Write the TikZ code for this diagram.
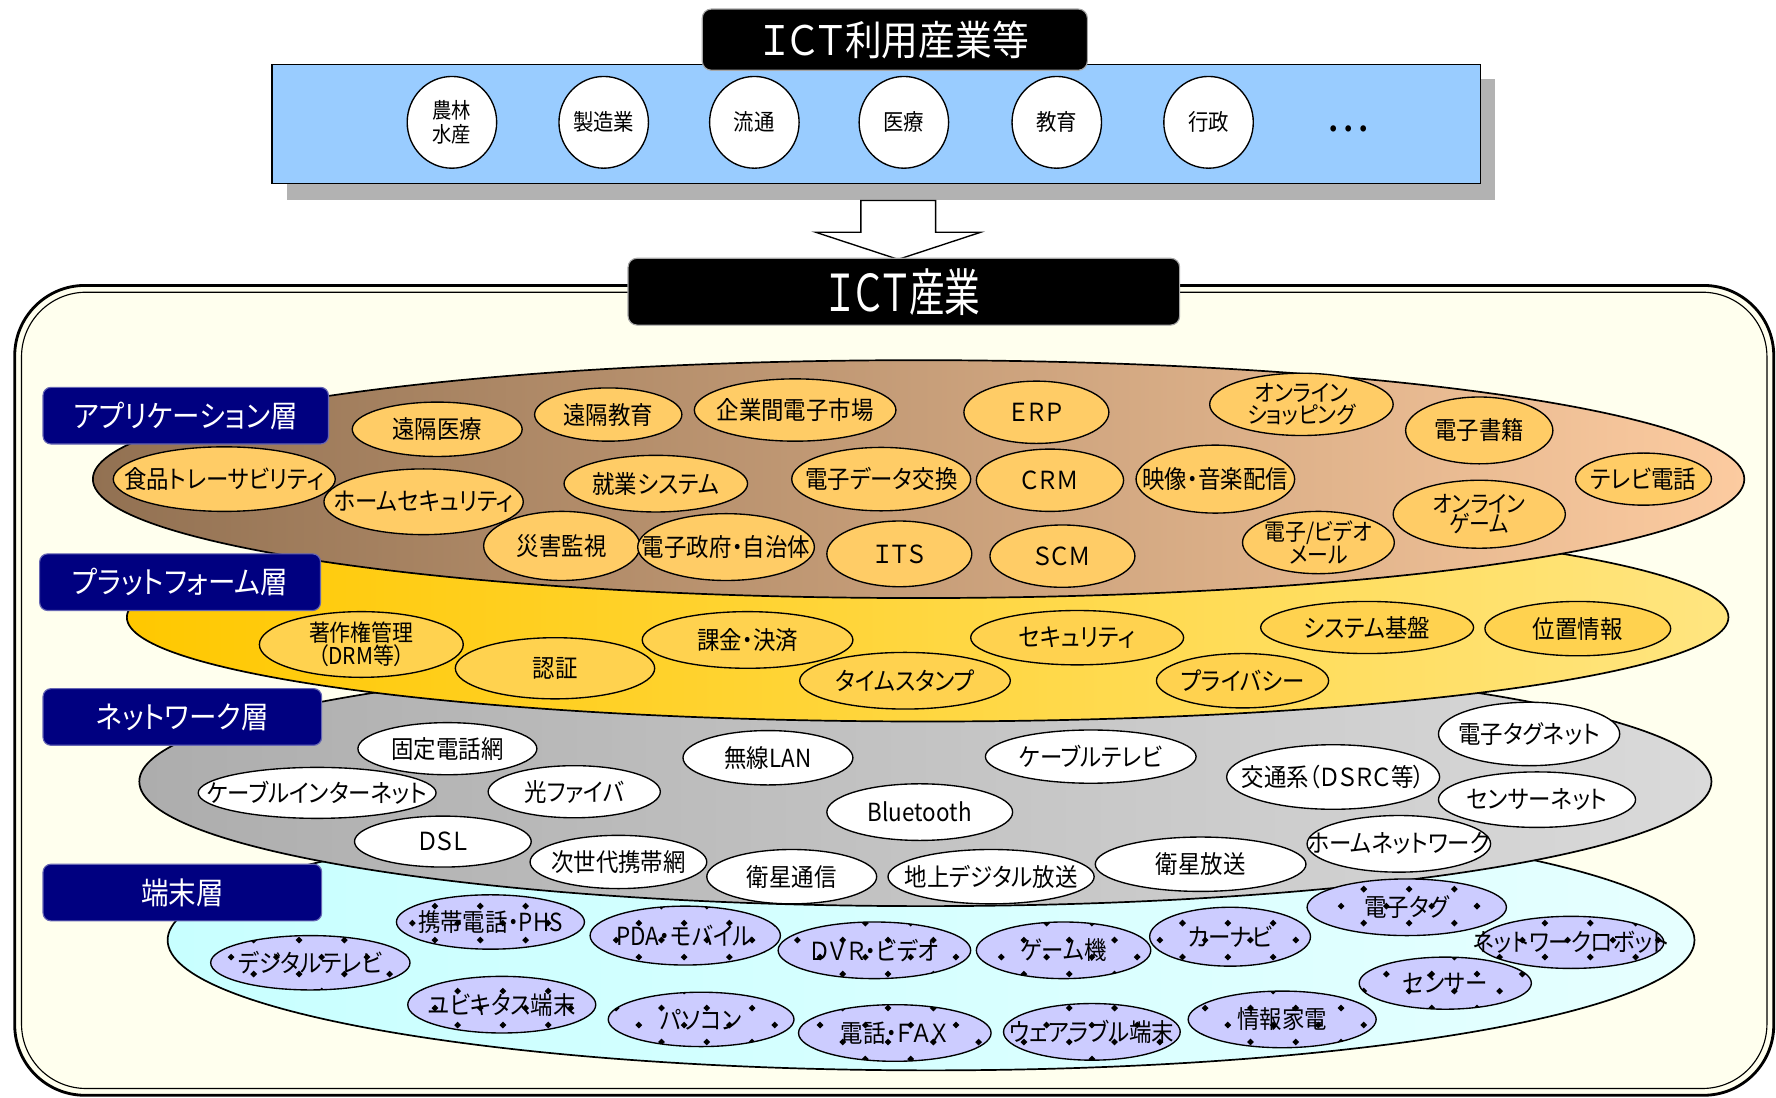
\documentclass[tikz,border=0pt]{standalone}
\usepackage{fontspec}
\setmainfont{Noto Sans CJK JP}[FakeStretch=0.9,RawFeature={+palt}]
\newfontfamily\headfont{Noto Sans CJK JP}[FakeStretch=0.7,RawFeature={+palt}]
\usepackage{tikz}
\usetikzlibrary{shapes.geometric,patterns}

\definecolor{navy}{HTML}{000080}
\definecolor{bandblue}{HTML}{99CCFF}
\definecolor{framefill}{HTML}{FFFFEE}
\definecolor{appleft}{HTML}{927152}
\definecolor{appright}{HTML}{FCCBA0}
\definecolor{appfill}{HTML}{FFCC66}
\definecolor{platleft}{HTML}{FFC800}
\definecolor{platright}{HTML}{FFE580}
\definecolor{platfill}{HTML}{FFD24F}
\definecolor{netleft}{HTML}{ADADAD}
\definecolor{netright}{HTML}{DADADA}
\definecolor{termleft}{HTML}{C8FFFF}
\definecolor{termright}{HTML}{E6FFFF}
\definecolor{termfill}{HTML}{CCCCFF}

% sparse black diamonds on the terminal items
\pgfdeclarepatternformonly{termdots}{\pgfqpoint{-1pt}{-1pt}}{\pgfqpoint{41pt}{31pt}}{\pgfqpoint{40pt}{30pt}}{%
  \pgfpathmoveto{\pgfqpoint{4pt}{1pt}}\pgfpathlineto{\pgfqpoint{7pt}{4pt}}%
  \pgfpathlineto{\pgfqpoint{4pt}{7pt}}\pgfpathlineto{\pgfqpoint{1pt}{4pt}}\pgfpathclose
  \pgfpathmoveto{\pgfqpoint{24pt}{16pt}}\pgfpathlineto{\pgfqpoint{27pt}{19pt}}%
  \pgfpathlineto{\pgfqpoint{24pt}{22pt}}\pgfpathlineto{\pgfqpoint{21pt}{19pt}}\pgfpathclose
  \pgfusepath{fill}}

\tikzstyle{titlebox} = [fill=black, draw=gray!70, line width=1pt, rounded corners=8pt, text=white, inner sep=0pt]
\tikzstyle{sector} = [ellipse, draw, line width=1.2pt, fill=white, inner sep=0pt, align=center, minimum width=79pt, minimum height=81pt, font=\fontsize{20}{22}\selectfont]
\tikzstyle{layerlbl} = [fill=navy, draw=navy!60!white, line width=1pt, rounded corners=7pt, text=white, minimum height=50pt, font=\fontsize{27}{27}\selectfont]
\tikzstyle{item} = [ellipse, draw, line width=1.2pt, inner sep=-30pt, align=center, font=\fontsize{22}{18}\selectfont]
\tikzstyle{appitem} = [item, fill=appfill]
\tikzstyle{platitem} = [item, fill=platfill]
\tikzstyle{netitem} = [item, fill=white]
\tikzstyle{termitem} = [item, fill=termfill, postaction={pattern=termdots}]
\tikzstyle{twolines} = [font=\fontsize{20.5}{18}\selectfont]
\tikzset{sz/.style 2 args={minimum width=#1pt, minimum height=#2pt}}

\begin{document}
\begin{tikzpicture}[x=1pt, y=-1pt]
  \useasboundingbox (0,0) rectangle (1568,969);

  % USERS OF ICT
  % shadow of the band
  \fill[gray!60] (253,70) rectangle (1320,177);
  % band
  \draw[fill=bandblue, line width=1.2pt] (240,57) rectangle (1307,162);
  % title
  \node (usetitle) [titlebox, sz={340}{54}, font=\fontsize{36}{36}\selectfont] at (790,35) {ＩＣＴ利用産業等};
  % sectors
  \node (agri) [sector, font=\fontsize{19}{22}\selectfont] at (399,108) {農林\\水産};
  \node (maker) [sector] at (533,108) {製造業};
  \node (retail) [sector] at (666,108) {流通};
  \node (medical) [sector] at (798,108) {医療};
  \node (school) [sector] at (933,108) {教育};
  \node (admin) [sector] at (1067,108) {行政};
  \node (others) [font=\fontsize{20}{20}\selectfont\bfseries] at (1191,116) {・ ・ ・};

  % block arrow
  \draw[fill=white, line width=1.2pt] (760,177) -- (826,177) -- (826,205) -- (866,205)
    -- (793,229) -- (720,205) -- (760,205) -- cycle;

  % ICT INDUSTRY
  % frame
  \draw[fill=framefill, line width=2.5pt, rounded corners=62pt] (13,252) rectangle (1566,967);
  \draw[line width=1pt, rounded corners=57pt] (19,258) rectangle (1560,961);
  \node (icttitle) [titlebox, sz={487}{59}, font=\headfont\fontsize{45}{45}\selectfont] at (798,257.5) {ＩＣＴ産業};

  % LAYERS
  % terminal
  \draw[line width=1.5pt, left color=termleft, right color=termright] (822,830) ellipse (674pt and 115pt);
  % network
  \draw[line width=1.5pt, left color=netleft, right color=netright] (817,690) ellipse (694pt and 110pt);
  % platform
  \draw[line width=1.5pt, left color=platleft, right color=platright] (819,545) ellipse (707pt and 92pt);
  % application
  \draw[line width=1.5pt, left color=appleft, right color=appright] (811,423) ellipse (729pt and 105pt);

  % layer labels
  \node (applbl) [layerlbl, minimum width=252pt] at (164,367) {アプリケーション層};
  \node (platlbl) [layerlbl, minimum width=248pt] at (159,514) {プラットフォーム層};
  \node (netlbl) [layerlbl, minimum width=246pt] at (161,633) {ネットワーク層};
  \node (termlbl) [layerlbl, minimum width=246pt] at (161,788) {端末層};

  % application items
  \node (remotecare) [appitem, sz={150}{48}] at (386,379) {遠隔医療};
  \node (remoteedu) [appitem, sz={130}{47}] at (537,366) {遠隔教育};
  \node (btob) [appitem, sz={178}{55}] at (702,362) {企業間電子市場};
  \node (erp) [appitem, sz={128}{55}] at (915,364) {ＥＲＰ};
  \node (shopping) [appitem, twolines, sz={162}{55}] at (1149,357) {オンライン\\ショッピング};
  \node (ebook) [appitem, sz={130}{59}] at (1306,380) {電子書籍};
  \node (foodtrace) [appitem, sz={196}{57}] at (198,423) {食品トレーサビリティ};
  \node (homesec) [appitem, sz={176}{58}] at (374,443) {ホームセキュリティ};
  \node (worksys) [appitem, sz={162}{50}] at (579,427) {就業システム};
  \node (edi) [appitem, sz={158}{56}] at (778,423) {電子データ交換};
  \node (crm) [appitem, sz={130}{55}] at (927,424) {ＣＲＭ};
  \node (media) [appitem, sz={140}{60}] at (1073,423) {映像・音楽配信};
  \node (videotel) [appitem, sz={120}{46}] at (1451,423) {テレビ電話};
  \node (onlinegame) [appitem, twolines, sz={152}{60}] at (1306,454) {オンライン\\ゲーム};
  \node (disaster) [appitem, sz={138}{61}] at (496,482) {災害監視};
  \node (egov) [appitem, sz={156}{59}] at (641,483) {電子政府・自治体};
  \node (its) [appitem, sz={128}{58}] at (794,489) {ＩＴＳ};
  \node (scm) [appitem, sz={128}{55}] at (938,491) {ＳＣＭ};
  \node (email) [appitem, twolines, sz={134}{55}] at (1164,479) {電子/ビデオ\\メール};

  % platform items
  \node (drm) [platitem, twolines, sz={180}{58}] at (319,569) {著作権管理\\（DRM等）};
  \node (auth) [platitem, sz={176}{54}] at (490,590) {認証};
  \node (billing) [platitem, sz={186}{50}] at (660,565) {課金・決済};
  \node (timestamp) [platitem, sz={186}{50}] at (799,601) {タイムスタンプ};
  \node (security) [platitem, sz={188}{48}] at (951,563) {セキュリティ};
  \node (privacy) [platitem, sz={152}{48}] at (1097,601) {プライバシー};
  \node (sysbase) [platitem, sz={188}{46}] at (1207,554) {システム基盤};
  \node (location) [platitem, sz={164}{48}] at (1393,555) {位置情報};

  % network items
  \node (fixedtel) [netitem, sz={158}{46}] at (395,661) {固定電話網};
  \node (catvnet) [netitem, sz={210}{45}] at (280,700) {ケーブルインターネット};
  \node (fiber) [netitem, sz={152}{46}] at (507,699) {光ファイバ};
  \node (wlan) [netitem, sz={150}{48}] at (678,669) {無線LAN};
  \node (dsl) [netitem, sz={156}{45}] at (391,743) {ＤＳＬ};
  \node (nextmobile) [netitem, sz={156}{47}] at (546,761) {次世代携帯網};
  \node (satcom) [netitem, sz={150}{48}] at (699,774) {衛星通信};
  \node (bluetooth) [netitem, sz={164}{50}] at (812,717) {Bluetooth};
  \node (dtv) [netitem, sz={182}{48}] at (875,774) {地上デジタル放送};
  \node (catv) [netitem, sz={186}{47}] at (963,668) {ケーブルテレビ};
  \node (satbc) [netitem, sz={186}{48}] at (1060,763) {衛星放送};
  \node (dsrc) [netitem, sz={188}{57}] at (1177,686) {交通系（ＤＳＲＣ等）};
  \node (tagnet) [netitem, sz={160}{56}] at (1350,648) {電子タグネット};
  \node (sensornet) [netitem, sz={174}{49}] at (1357,706) {センサーネット};
  \node (homenet) [netitem, sz={162}{50}] at (1235,745) {ホームネットワーク};

  % terminal items
  \node (mobile) [termitem, sz={166}{48}] at (433,814) {携帯電話・PHS};
  \node (digitv) [termitem, sz={176}{48}] at (274,850) {デジタルテレビ};
  \node (pda) [termitem, sz={168}{52}] at (605,826) {PDA・モバイル};
  \node (dvr) [termitem, sz={170}{50}] at (772,839) {ＤＶＲ・ビデオ};
  \node (gamebox) [termitem, sz={154}{50}] at (939,839) {ゲーム機};
  \node (carnav) [termitem, sz={142}{52}] at (1086,827) {カーナビ};
  \node (etag) [termitem, sz={176}{50}] at (1242,801) {電子タグ};
  \node (robot) [termitem, sz={164}{46}] at (1387,832) {ネットワークロボット};
  \node (sensor) [termitem, sz={152}{46}] at (1276,868) {センサー};
  \node (ubiq) [termitem, sz={166}{50}] at (443,887) {ユビキタス端末};
  \node (pc) [termitem, sz={164}{48}] at (619,900) {パソコン};
  \node (telfax) [termitem, sz={170}{50}] at (790,912) {電話・ＦＡＸ};
  \node (wearable) [termitem, sz={156}{50}] at (964,911) {ウェアラブル端末};
  \node (infoapp) [termitem, sz={166}{50}] at (1132,900) {情報家電};
\end{tikzpicture}
\end{document}
